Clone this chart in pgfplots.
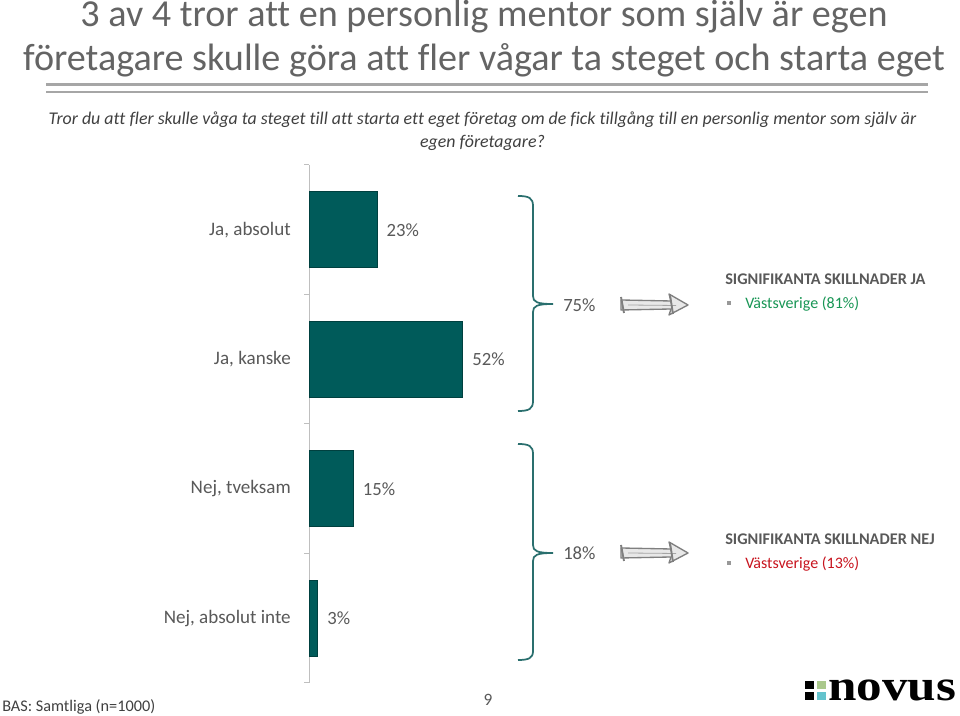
\documentclass[border=0pt]{standalone}
\usepackage{pgfplots}
\pgfplotsset{compat=1.18}
\usepackage{graphicx}
\usepackage{fontspec}
\setmainfont[Ligatures={NoCommon}]{Carlito}
\newfontfamily\logofont{Liberation Serif}
\definecolor{titlegray}{HTML}{646464}
\definecolor{labgray}{HTML}{595959}
\definecolor{subgray}{HTML}{404040}
\definecolor{barteal}{HTML}{005B5A}
\definecolor{bardark}{HTML}{00403F}
\definecolor{braceteal}{HTML}{2A6F6E}
\definecolor{axisgray}{HTML}{BFBFBF}
\definecolor{rulegray}{HTML}{A6A6A6}
\definecolor{sigreen}{RGB}{25,150,85}
\definecolor{sigred}{RGB}{200,20,30}
\definecolor{arrowgray}{HTML}{7F7F7F}
\definecolor{logogreen}{RGB}{170,200,140}
\definecolor{logocyan}{RGB}{100,195,205}
\begin{document}
\begin{tikzpicture}
\useasboundingbox (0,0) rectangle (720pt,537pt);
\fill[white] (0,0) rectangle (720pt,537pt);
\begin{axis}[
  at={(231.75pt,24.75pt)}, anchor=south west,
  scale only axis, width=222pt, height=388.5pt,
  xmin=0, xmax=100, ymin=-0.5, ymax=3.5,
  axis x line=none, axis y line*=left,
  axis line style={draw=axisgray, line width=0.75pt},
  xbar, bar width=0.587,
  ytick={0,1,2,3},
  yticklabels={{Nej, absolut inte},{Nej, tveksam},{Ja, kanske},{Ja, absolut}},
  major tick length=0pt,
  minor ytick={-0.5,0.5,1.5,2.5,3.5},
  minor tick length=3.75pt, tick align=outside, tick pos=left,
  minor tick style={draw=axisgray, line width=0.75pt},
  yticklabel style={font=\fontsize{14.3pt}{17pt}\selectfont, text=labgray, inner sep=0pt, xshift=-13.5pt},
  point meta=explicit symbolic,
  nodes near coords, nodes near coords align=horizontal,
  every node near coord/.append style={font=\fontsize{14pt}{17pt}\selectfont, text=labgray, anchor=west, inner sep=0pt, xshift=6.75pt},
  clip=false,
]
\addplot[fill=barteal, draw=bardark, line width=0.75pt] coordinates {(23,3) [23\%] (52,2) [52\%] (15,1) [15\%] (3,0) [3\%]};
\end{axis}
\begin{scope}[x=0.75pt,y=-0.75pt,yshift=537pt]
% title
\node[anchor=base, inner sep=0, text=titlegray, font=\fontsize{28.6pt}{34pt}\selectfont] at (484,27) {3 av 4 tror att en personlig mentor som själv är egen};
\node[anchor=base, inner sep=0, text=titlegray, font=\fontsize{28.6pt}{34pt}\selectfont] at (484,71) {företagare skulle göra att fler vågar ta steget och starta eget};
\draw[rulegray, line width=2.25pt] (46,85) -- (928,85);
\draw[rulegray, line width=1.5pt] (46,92.5) -- (928,92.5);
% subtitle
\node[anchor=base, inner sep=0, text=subgray, font=\itshape\fontsize{13.4pt}{15pt}\selectfont] at (482.5,125) {Tror du att fler skulle våga ta steget till att starta ett eget företag om de fick tillgång till en personlig mentor som själv är};
\node[anchor=base, inner sep=0, text=subgray, font=\itshape\fontsize{13.4pt}{15pt}\selectfont] at (482.5,148) {egen företagare?};
% braces
\draw[braceteal, line width=1.3pt] (518,196) .. controls (529,196) and (533,198) .. (533,206) -- (533,296) .. controls (533,302) and (537,304) .. (553,304) .. controls (537,304) and (533,306) .. (533,312) -- (533,401) .. controls (533,409) and (529,411) .. (518,411);
\draw[braceteal, line width=1.3pt] (518,444) .. controls (529,444) and (533,446) .. (533,454) -- (533,545) .. controls (533,551) and (537,553) .. (553,553) .. controls (537,553) and (533,555) .. (533,561) -- (533,651) .. controls (533,658) and (529,660) .. (518,660);
% totals
\node[anchor=west, inner sep=0, text=labgray, font=\fontsize{14pt}{17pt}\selectfont] at (563,305) {75\%};
\node[anchor=west, inner sep=0, text=labgray, font=\fontsize{14pt}{17pt}\selectfont] at (563,553) {18\%};
% arrows
\foreach \yy in {305,553}{
  \draw[arrowgray, line width=1pt, fill=gray!18, line join=round]
    (621,\yy-5) -- (671,\yy-4) -- (669,\yy-11) -- (688,\yy) -- (669,\yy+10) -- (671,\yy+4) -- (621,\yy+5) -- cycle;
  \draw[arrowgray!70, line width=0.6pt] (628,\yy) -- (676,\yy+0.5);
  \draw[arrowgray, line width=1.4pt] (621,\yy-8) -- (624,\yy+8);
  \draw[arrowgray, line width=1.4pt] (670,\yy-10) -- (673,\yy+9);
}
% annotations
\node[anchor=base west, inner sep=0, text=labgray, font=\bfseries\fontsize{12.2pt}{14pt}\selectfont] at (725,285) {SIGNIFIKANTA SKILLNADER JA};
\fill[arrowgray!80] (727,301) rectangle (731,305);
\node[anchor=base west, inner sep=0, text=sigreen, font=\fontsize{12pt}{14pt}\selectfont] at (745,309) {Västsverige (81\%)};
\node[anchor=base west, inner sep=0, text=labgray, font=\bfseries\fontsize{12.2pt}{14pt}\selectfont] at (725,545) {SIGNIFIKANTA SKILLNADER NEJ};
\fill[arrowgray!80] (727,561) rectangle (731,565);
\node[anchor=base west, inner sep=0, text=sigred, font=\fontsize{12pt}{14pt}\selectfont] at (745,569) {Västsverige (13\%)};
% footer
\node[anchor=base west, inner sep=0, text=subgray, font=\fontsize{12.2pt}{14pt}\selectfont] at (2,712) {BAS: Samtliga (n=1000)};
\node[anchor=base, inner sep=0, text=labgray, font=\fontsize{13pt}{15pt}\selectfont] at (488,706) {9};
% logo
\fill[black] (805,681) rectangle (814,689);
\fill[logogreen] (817,681) rectangle (826,689);
\fill[black] (805,692) rectangle (814,700);
\fill[logocyan] (817,692) rectangle (826,700);
\node[anchor=base west, inner sep=0, text=black, font=\logofont\bfseries\fontsize{32.8pt}{33pt}\selectfont] at (828,701) {\scalebox{1.17}[1]{novus}};
\end{scope}
\end{tikzpicture}
\end{document}
